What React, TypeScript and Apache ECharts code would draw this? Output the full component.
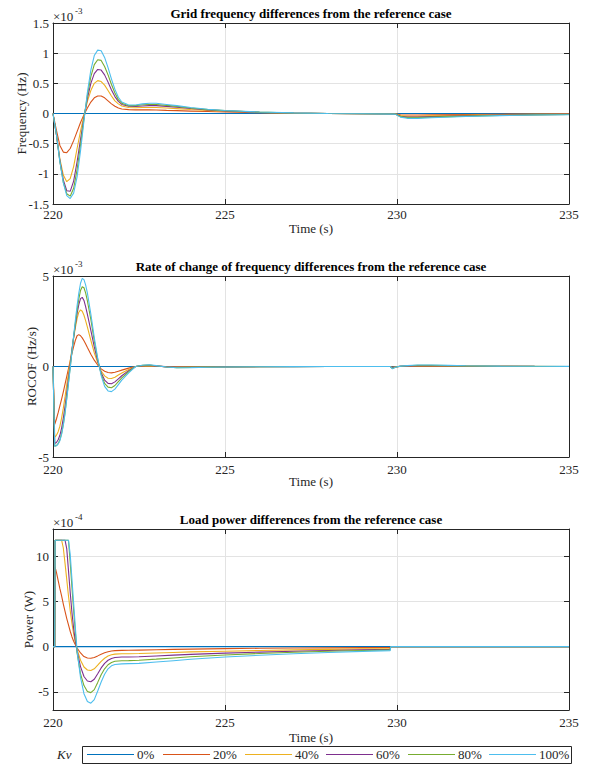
import React, { useEffect, useRef } from 'react';
import * as echarts from 'echarts';

// ---------- data ----------
const KV_LEVELS = ['0%', '20%', '40%', '60%', '80%', '100%'];
const COLORS = ['#0072BD', '#D95319', '#EDB120', '#7E2F8E', '#77AC30', '#4DBEEE'];

const X_RANGE = [220, 235];
const X_STEP = 5;

// 0% (reference) is zero in every panel
const T_ZERO = [220, 235];
const V_ZERO = [0, 0];

// Panel 1: grid frequency differences (x 1e-3 Hz)
const T_FREQ = [220, 220.1, 220.2, 220.3, 220.4, 220.5, 220.6, 220.7, 220.8, 220.9, 221.0, 221.1, 221.2, 221.3, 221.4, 221.5, 221.6, 221.7, 221.8, 221.9, 222.0, 222.2, 222.4, 222.6, 222.8, 223.0, 223.3, 223.6, 224.0, 224.5, 225, 226, 227, 228, 229, 229.95, 230.1, 230.3, 230.6, 231, 232, 233, 234, 235];
const FREQ_20 = [0, -0.28, -0.53, -0.64, -0.65, -0.58, -0.45, -0.3, -0.15, -0.02, 0.09, 0.19, 0.26, 0.29, 0.29, 0.26, 0.21, 0.16, 0.12, 0.09, 0.075, 0.065, 0.06, 0.06, 0.06, 0.058, 0.052, 0.047, 0.04, 0.032, 0.025, 0.012, 0.005, 0, -0.002, -0.004, -0.02, -0.025, -0.025, -0.022, -0.016, -0.012, -0.008, -0.006];
const FREQ_40 = [0, -0.35, -0.75, -1.02, -1.13, -1.08, -0.88, -0.58, -0.29, -0.03, 0.2, 0.38, 0.5, 0.545, 0.53, 0.47, 0.38, 0.29, 0.21, 0.16, 0.125, 0.1, 0.095, 0.1, 0.1, 0.1, 0.09, 0.08, 0.066, 0.05, 0.037, 0.018, 0.007, 0, -0.003, -0.006, -0.035, -0.045, -0.045, -0.04, -0.028, -0.02, -0.014, -0.011];
const FREQ_60 = [0, -0.35, -0.78, -1.1, -1.28, -1.29, -1.12, -0.8, -0.43, -0.07, 0.25, 0.5, 0.66, 0.73, 0.72, 0.64, 0.52, 0.39, 0.28, 0.2, 0.15, 0.12, 0.115, 0.125, 0.13, 0.13, 0.118, 0.104, 0.083, 0.06, 0.043, 0.021, 0.008, 0, -0.004, -0.008, -0.045, -0.058, -0.058, -0.052, -0.037, -0.027, -0.019, -0.015];
const FREQ_80 = [0, -0.35, -0.8, -1.14, -1.33, -1.37, -1.24, -0.93, -0.52, -0.09, 0.3, 0.61, 0.81, 0.89, 0.88, 0.78, 0.64, 0.48, 0.34, 0.23, 0.17, 0.13, 0.13, 0.145, 0.15, 0.15, 0.135, 0.118, 0.092, 0.065, 0.047, 0.023, 0.009, 0, -0.005, -0.009, -0.052, -0.068, -0.068, -0.06, -0.043, -0.031, -0.022, -0.017];
const FREQ_100 = [0, -0.35, -0.8, -1.15, -1.36, -1.41, -1.32, -1.05, -0.62, -0.12, 0.35, 0.72, 0.96, 1.05, 1.04, 0.93, 0.76, 0.57, 0.4, 0.27, 0.19, 0.14, 0.14, 0.16, 0.17, 0.17, 0.15, 0.13, 0.1, 0.07, 0.05, 0.025, 0.01, 0, -0.005, -0.01, -0.06, -0.08, -0.08, -0.07, -0.05, -0.035, -0.025, -0.02];

// Panel 2: ROCOF differences (x 1e-3 Hz/s)
const T_ROCOF = [220, 220.05, 220.1, 220.15, 220.2, 220.25, 220.3, 220.35, 220.4, 220.45, 220.5, 220.55, 220.6, 220.65, 220.7, 220.75, 220.8, 220.85, 220.9, 220.95, 221.0, 221.1, 221.2, 221.3, 221.4, 221.5, 221.6, 221.7, 221.8, 221.9, 222.0, 222.2, 222.4, 222.6, 222.8, 223.0, 223.3, 223.6, 224.0, 224.5, 225, 226, 227, 228, 229, 229.8, 229.87, 229.95, 230.1, 230.3, 230.6, 231, 231.5, 232, 233, 234, 235];
const ROCOF_20 = [0, -3.2, -2.9, -2.55, -2.18, -1.8, -1.4, -0.98, -0.55, -0.12, 0.3, 0.72, 1.1, 1.45, 1.7, 1.76, 1.7, 1.58, 1.42, 1.24, 1.05, 0.68, 0.35, 0.08, -0.13, -0.26, -0.33, -0.35, -0.32, -0.26, -0.2, -0.09, 0, 0.02, 0.025, 0.012, -0.008, -0.018, -0.015, -0.01, -0.008, -0.004, -0.002, -0.001, 0, 0, -0.04, -0.012, 0.005, 0.012, 0.02, 0.02, 0.015, 0.01, 0.005, 0.002, 0.001];
const ROCOF_40 = [0, -3.9, -3.8, -3.6, -3.3, -2.85, -2.3, -1.68, -1.0, -0.35, 0.3, 0.95, 1.58, 2.15, 2.65, 3.0, 3.13, 3.05, 2.83, 2.52, 2.17, 1.45, 0.76, 0.2, -0.25, -0.52, -0.65, -0.66, -0.59, -0.47, -0.36, -0.16, 0, 0.035, 0.05, 0.025, -0.015, -0.035, -0.03, -0.02, -0.015, -0.007, -0.004, -0.002, -0.001, -0.001, -0.07, -0.02, 0.01, 0.025, 0.04, 0.04, 0.03, 0.02, 0.01, 0.005, 0.002];
const ROCOF_60 = [0, -4.25, -4.2, -4.05, -3.8, -3.4, -2.85, -2.2, -1.45, -0.68, 0.1, 0.88, 1.62, 2.3, 2.92, 3.42, 3.75, 3.82, 3.65, 3.3, 2.88, 2.0, 1.08, 0.3, -0.34, -0.75, -0.93, -0.95, -0.85, -0.68, -0.51, -0.23, 0, 0.05, 0.07, 0.035, -0.02, -0.05, -0.04, -0.028, -0.02, -0.01, -0.005, -0.002, -0.001, -0.001, -0.09, -0.03, 0.014, 0.035, 0.055, 0.055, 0.04, 0.027, 0.014, 0.007, 0.003];
const ROCOF_80 = [0, -4.4, -4.37, -4.26, -4.05, -3.7, -3.18, -2.52, -1.72, -0.88, -0.05, 0.8, 1.62, 2.4, 3.1, 3.72, 4.2, 4.41, 4.35, 4.05, 3.62, 2.6, 1.42, 0.4, -0.42, -0.93, -1.14, -1.17, -1.05, -0.84, -0.63, -0.29, 0, 0.06, 0.085, 0.04, -0.025, -0.06, -0.05, -0.035, -0.025, -0.012, -0.006, -0.003, -0.002, -0.001, -0.11, -0.035, 0.017, 0.043, 0.068, 0.068, 0.05, 0.034, 0.017, 0.008, 0.004];
const ROCOF_100 = [0, -4.4, -4.38, -4.28, -4.1, -3.75, -3.25, -2.6, -1.8, -0.95, -0.1, 0.8, 1.7, 2.55, 3.35, 4.05, 4.6, 4.87, 4.8, 4.5, 4.05, 2.9, 1.6, 0.45, -0.5, -1.1, -1.35, -1.39, -1.25, -1.0, -0.75, -0.35, 0, 0.07, 0.1, 0.05, -0.03, -0.07, -0.06, -0.04, -0.03, -0.015, -0.008, -0.004, -0.002, -0.001, -0.13, -0.04, 0.02, 0.05, 0.08, 0.08, 0.06, 0.04, 0.02, 0.01, 0.005];

// Panel 3: load power differences (x 1e-4 W)
const T_POWER = [220, 220.05, 220.06, 220.1, 220.2, 220.25, 220.3, 220.35, 220.4, 220.45, 220.5, 220.55, 220.6, 220.65, 220.7, 220.8, 220.9, 221.0, 221.1, 221.2, 221.3, 221.4, 221.5, 221.6, 221.7, 221.8, 222.0, 222.2, 222.5, 223.0, 223.5, 224.0, 225, 226, 227, 228, 229, 229.8, 229.82, 235];
const POWER_20 = [0, 0, 8.8, 8.2, 6.4, 5.6, 4.7, 3.9, 3.1, 2.4, 1.7, 1.1, 0.6, 0.2, -0.15, -0.7, -1.1, -1.26, -1.28, -1.2, -1.02, -0.83, -0.67, -0.56, -0.48, -0.44, -0.41, -0.4, -0.38, -0.34, -0.3, -0.27, -0.22, -0.18, -0.15, -0.13, -0.11, -0.1, 0, 0];
const POWER_40 = [0, 0, 11.76, 11.76, 11.76, 11.76, 10.9, 9.2, 7.4, 5.6, 4.0, 2.6, 1.4, 0.45, -0.3, -1.5, -2.25, -2.58, -2.64, -2.45, -2.05, -1.62, -1.28, -1.04, -0.9, -0.83, -0.79, -0.78, -0.76, -0.7, -0.64, -0.58, -0.51, -0.43, -0.36, -0.3, -0.25, -0.22, 0, 0];
const POWER_60 = [0, 0, 11.76, 11.76, 11.76, 11.76, 11.76, 11.76, 10.8, 8.4, 6.0, 3.8, 2.0, 0.6, -0.5, -2.2, -3.3, -3.8, -3.88, -3.6, -3.0, -2.35, -1.85, -1.5, -1.3, -1.2, -1.15, -1.14, -1.12, -1.03, -0.94, -0.85, -0.72, -0.6, -0.5, -0.42, -0.35, -0.3, 0, 0];
const POWER_80 = [0, 0, 11.76, 11.76, 11.76, 11.76, 11.76, 11.76, 11.76, 11.76, 9.3, 6.6, 4.0, 1.6, -0.7, -3.0, -4.3, -4.95, -5.08, -4.75, -3.95, -3.1, -2.45, -2.0, -1.75, -1.62, -1.56, -1.54, -1.5, -1.38, -1.25, -1.12, -0.92, -0.76, -0.62, -0.51, -0.42, -0.36, 0, 0];
const POWER_100 = [0, 0, 11.76, 11.76, 11.76, 11.76, 11.76, 11.76, 11.76, 11.76, 10.2, 7.5, 4.8, 2.1, -0.5, -3.4, -5.2, -6.05, -6.25, -5.85, -4.9, -3.9, -3.05, -2.45, -2.12, -1.98, -1.9, -1.88, -1.85, -1.7, -1.55, -1.4, -1.15, -0.95, -0.78, -0.64, -0.52, -0.44, 0, 0];

const TITLES = [
  'Grid frequency differences from the reference case',
  'Rate of change of frequency differences from the reference case',
  'Load power differences from the reference case',
];
const Y_NAMES = ['Frequency (Hz)', 'ROCOF (Hz/s)', 'Power (W)'];
const EXPONENTS = ['-3', '-3', '-4'];
const X_NAME = 'Time (s)';
const LEGEND_TITLE = 'Kv';

// ---------- styling ----------
const FONT = 'Liberation Serif';
const AX = '#262626';
const GRIDC = '#e3e3e3';
const GRID_TOPS = [23, 276, 529];
const GRID_H = 181;
const GRID_LEFT = 53;
const GRID_W = 516;
const X_LABEL_MARGIN = [4, 6, 6];
// legend layout (pixels)
const LEG_BOX = { x: 82, y: 746, w: 489, h: 17 };
const LEG_ITEM_X = [87, 163, 245, 326, 408, 489];
const LEG_LINE_W = 47;

const pairs = (t: number[], v: number[]) => t.map((x, i) => [x, v[i]]);

const PANELS = [
  { time: T_FREQ, values: [FREQ_20, FREQ_40, FREQ_60, FREQ_80, FREQ_100], y: { min: -1.5, max: 1.5, interval: 0.5 } },
  { time: T_ROCOF, values: [ROCOF_20, ROCOF_40, ROCOF_60, ROCOF_80, ROCOF_100], y: { min: -5, max: 5, interval: 5 } },
  { time: T_POWER, values: [POWER_20, POWER_40, POWER_60, POWER_80, POWER_100], y: { min: -7, max: 13, splitNumber: 4 } },
];

export default function App() {
  const ref = useRef<HTMLDivElement>(null);
  useEffect(() => {
    document.body.style.margin = '0';
    if (!ref.current) return;
    const chart = echarts.init(ref.current, undefined, { renderer: 'svg' });

    const grids: any[] = [];
    const xAxes: any[] = [];
    const yAxes: any[] = [];
    const series: any[] = [];
    const graphics: any[] = [];

    PANELS.forEach((p, g) => {
      const top = GRID_TOPS[g];
      grids.push({ left: GRID_LEFT, top, width: GRID_W, height: GRID_H, containLabel: false, outerBoundsMode: 'none', show: false });
      const line = { show: true, onZero: false, lineStyle: { color: AX, width: 1 } };
      const tick = { show: true, inside: true, length: 5, lineStyle: { color: AX, width: 1 } };
      const label = { fontFamily: FONT, fontSize: 13, color: AX };
      xAxes.push({
        type: 'value', gridIndex: g, position: 'bottom', min: X_RANGE[0], max: X_RANGE[1], interval: X_STEP,
        axisLine: line, axisTick: tick,
        axisLabel: { ...label, margin: X_LABEL_MARGIN[g] },
        splitLine: { show: true, lineStyle: { color: GRIDC, width: 1 } },
      });
      xAxes.push({
        type: 'value', gridIndex: g, position: 'top', min: X_RANGE[0], max: X_RANGE[1], interval: X_STEP,
        axisLine: line, axisTick: tick, axisLabel: { show: false }, splitLine: { show: false },
      });
      const yBase: any = { type: 'value', gridIndex: g, min: p.y.min, max: p.y.max };
      if ((p.y as any).interval !== undefined) yBase.interval = (p.y as any).interval;
      if ((p.y as any).splitNumber !== undefined) yBase.splitNumber = (p.y as any).splitNumber;
      yAxes.push({
        ...yBase, position: 'left',
        axisLine: line, axisTick: tick,
        axisLabel: { ...label, margin: 4, showMinLabel: g !== 2, showMaxLabel: g !== 2 },
        splitLine: { show: true, lineStyle: { color: GRIDC, width: 1 } },
      });
      yAxes.push({
        ...yBase, position: 'right',
        axisLine: line, axisTick: tick, axisLabel: { show: false }, splitLine: { show: false },
      });

      const allVals = [V_ZERO, ...p.values];
      const allTimes = [T_ZERO, p.time, p.time, p.time, p.time, p.time];
      allVals.forEach((v, k) => {
        series.push({
          type: 'line', name: KV_LEVELS[k], xAxisIndex: 2 * g, yAxisIndex: 2 * g,
          data: pairs(allTimes[k], v), symbol: 'none', showSymbol: false,
          lineStyle: { color: COLORS[k], width: 1.1 }, itemStyle: { color: COLORS[k] },
          silent: true,
        });
      });

      graphics.push({
        type: 'text', x: GRID_LEFT + GRID_W / 2, y: top - 10,
        style: { text: TITLES[g], fontFamily: FONT, fontSize: 13, fontWeight: 'bold', fill: '#000', align: 'center', verticalAlign: 'middle' },
      });
      graphics.push({
        type: 'text', x: GRID_LEFT + GRID_W / 2, y: top + GRID_H + (g === 2 ? 27 : 24),
        style: { text: X_NAME, fontFamily: FONT, fontSize: 13, fill: AX, align: 'center', verticalAlign: 'middle' },
      });
      const yNameX = [21, 31, 28][g];
      graphics.push({
        type: 'text', x: yNameX, y: top + GRID_H / 2, rotation: Math.PI / 2,
        style: { text: Y_NAMES[g], fontFamily: FONT, fontSize: 13, fill: AX, align: 'center', verticalAlign: 'middle' },
      });
      graphics.push({
        type: 'text', x: GRID_LEFT, y: top - 7,
        style: { text: '\u00d710', fontFamily: FONT, fontSize: 13, fill: AX, align: 'left', verticalAlign: 'middle' },
      });
      graphics.push({
        type: 'text', x: GRID_LEFT + 22, y: top - 12,
        style: { text: EXPONENTS[g], fontFamily: FONT, fontSize: 9, fill: AX, align: 'left', verticalAlign: 'middle' },
      });
    });

    // legend drawn as graphic elements
    const legY = LEG_BOX.y + LEG_BOX.h / 2;
    graphics.push({
      type: 'rect',
      shape: { x: LEG_BOX.x + 0.5, y: LEG_BOX.y + 0.5, width: LEG_BOX.w, height: LEG_BOX.h },
      style: { fill: '#fff', stroke: AX, lineWidth: 1 },
    });
    KV_LEVELS.forEach((name, i) => {
      const x0 = LEG_ITEM_X[i];
      graphics.push({
        type: 'line',
        shape: { x1: x0, y1: legY, x2: x0 + LEG_LINE_W, y2: legY },
        style: { stroke: COLORS[i], lineWidth: 1.1 },
      });
      graphics.push({
        type: 'text', x: x0 + LEG_LINE_W + 3, y: legY,
        style: { text: name, fontFamily: FONT, fontSize: 13, fill: AX, align: 'left', verticalAlign: 'middle' },
      });
    });
    graphics.push({
      type: 'text', x: 57, y: legY,
      style: { text: LEGEND_TITLE, fontFamily: FONT, fontSize: 13, fontStyle: 'italic', fill: AX, align: 'left', verticalAlign: 'middle' },
    });

    chart.setOption({
      animation: false,
      backgroundColor: '#ffffff',
      textStyle: { fontFamily: FONT },
      grid: grids,
      xAxis: xAxes,
      yAxis: yAxes,
      series,
      graphic: graphics,
    });
    return () => chart.dispose();
  }, []);
  return <div ref={ref} style={{ width: 590, height: 764 }} />;
}
